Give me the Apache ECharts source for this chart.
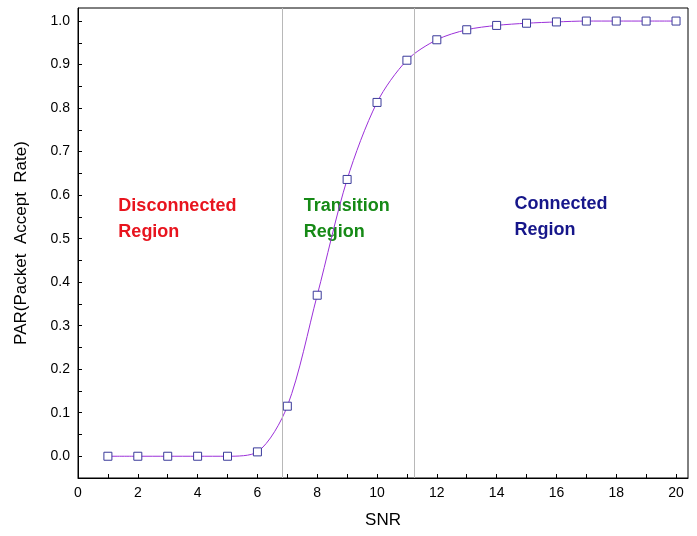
<!DOCTYPE html>
<html>
<head>
<meta charset="utf-8">
<script src="https://cdn.jsdelivr.net/npm/echarts@6/dist/echarts.min.js"></script>
<style>html,body{margin:0;background:#fff}#main{width:697px;height:536px}</style>
</head>
<body>
<div id="main"></div>
<script>
var snr = [1, 2, 3, 4, 5, 6, 7, 8, 9, 10, 11, 12, 13, 14, 15, 16, 17, 18, 19, 20];
var par = [0, 0, 0, 0, 0, 0.01, 0.115, 0.37, 0.636, 0.813, 0.91, 0.957, 0.98, 0.99, 0.995, 0.998, 1.0, 1.0, 1.0, 1.0];
var regionBounds = [6.83, 11.25];
var regionLabels = [
    { text: 'Disconnected\nRegion', x: 1.35, y: 0.545, color: '#e8141e' },
    { text: 'Transition\nRegion', x: 7.55, y: 0.545, color: '#168a16' },
    { text: 'Connected\nRegion', x: 14.6, y: 0.55, color: '#16168a' }
];

var chart = echarts.init(document.getElementById('main'));
var font = 'Liberation Sans, Arial, sans-serif';

chart.setOption({
    animation: false,
    grid: { left: 78, right: 9, top: 8, bottom: 58, show: true, borderColor: '#000', borderWidth: 1 },
    xAxis: {
        type: 'value', min: 0, max: 20.4, interval: 1,
        name: 'SNR', nameLocation: 'middle', nameGap: 34,
        nameTextStyle: { fontSize: 17, color: '#000', fontFamily: font },
        axisLine: { onZero: false, lineStyle: { color: '#000' } },
        axisTick: { inside: true, length: 4, lineStyle: { color: '#000' } },
        splitLine: { show: false },
        axisLabel: {
            color: '#000', fontSize: 14, fontFamily: font, showMaxLabel: false,
            formatter: function (v) { return v % 2 === 0 ? String(v) : ''; }
        }
    },
    yAxis: {
        type: 'value', min: -0.05, max: 1.03, interval: 0.05,
        name: 'PAR(Packet  Accept  Rate)', nameLocation: 'middle', nameGap: 48,
        nameTextStyle: { fontSize: 17, color: '#000', fontFamily: font },
        axisLine: { onZero: false, lineStyle: { color: '#000' } },
        axisTick: { inside: true, length: 4, lineStyle: { color: '#000' } },
        splitLine: { show: false },
        axisLabel: {
            color: '#000', fontSize: 14, fontFamily: font, showMaxLabel: false,
            formatter: function (v) {
                var k = Math.round(v * 20);
                return (k >= 0 && k % 2 === 0) ? v.toFixed(1) : '';
            }
        }
    },
    series: [{
        type: 'line',
        data: snr.map(function (s, i) { return [s, par[i]]; }),
        smooth: 0.3,
        symbol: 'rect', symbolSize: 8,
        lineStyle: { color: '#9b30d9', width: 1 },
        itemStyle: { color: '#fff', borderColor: '#3a3a9a', borderWidth: 1 },
        markLine: {
            silent: true, symbol: 'none', label: { show: false },
            lineStyle: { color: '#b8b8b8', type: 'solid', width: 1 },
            data: regionBounds.map(function (b) { return { xAxis: b }; })
        }
    }, {
        type: 'scatter',
        symbolSize: 0,
        data: regionLabels.map(function (r) {
            return {
                value: [r.x, r.y],
                label: {
                    show: true, position: 'right', distance: 0,
                    fontSize: 18, fontWeight: 'bold', fontFamily: font, lineHeight: 26,
                    formatter: r.text, color: r.color, opacity: 1
                }
            };
        })
    }]
});
</script>
</body>
</html>
